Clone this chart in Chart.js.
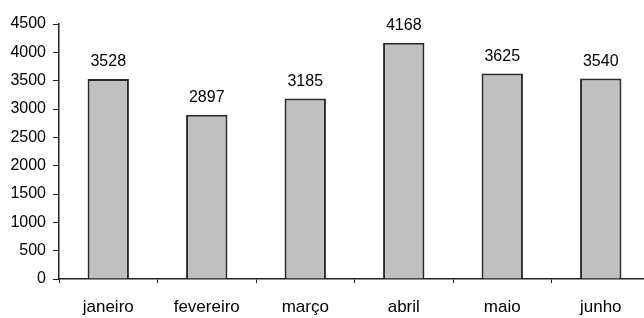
<!DOCTYPE html>
<html>
<head>
<meta charset="utf-8">
<script src="https://cdn.jsdelivr.net/npm/chart.js@4/dist/chart.umd.min.js"></script>
<style>
  html, body { margin: 0; padding: 0; background: #fff; overflow: hidden; }
  #wrap { width: 652px; height: 318px; }
</style>
</head>
<body>
<div id="wrap"><canvas id="chart" width="652" height="318"></canvas></div>
<script>
const months = ["janeiro", "fevereiro", "março", "abril", "maio", "junho"]
const totals = [3528, 2897, 3185, 4168, 3625, 3540]
const yTicks = [0, 500, 1000, 1500, 2000, 2500, 3000, 3500, 4000, 4500]

const fontFamily = "'Liberation Sans', Arial, sans-serif"

// draws the value above each bar
const valueLabels = {
  id: "valueLabels",
  afterDatasetsDraw(chart) {
    const ctx = chart.ctx
    const meta = chart.getDatasetMeta(0)
    ctx.save()
    ctx.font = "16px " + fontFamily
    ctx.fillStyle = "#000"
    ctx.textAlign = "center"
    ctx.textBaseline = "middle"
    meta.data.forEach((bar, i) => {
      ctx.fillText(String(totals[i]), bar.x, bar.y - 17)
    })
    ctx.restore()
  },
}

new Chart(document.getElementById("chart").getContext("2d"), {
  type: "bar",
  data: {
    labels: months,
    datasets: [
      {
        data: totals,
        backgroundColor: "#c0c0c0",
        borderColor: "#2a2a2a",
        borderWidth: 2,
        barPercentage: 0.42,
        categoryPercentage: 1,
      },
    ],
  },
  options: {
    responsive: false,
    animation: false,
    layout: { padding: { top: 24, right: 2, left: 0, bottom: 0 } },
    plugins: {
      legend: { display: false },
      tooltip: { enabled: false },
    },
    scales: {
      x: {
        afterFit: (scale) => { scale.height = 39 },
        border: { color: "#222", width: 1.5 },
        grid: { offset: true, drawOnChartArea: false, tickLength: 4, color: "#222" },
        ticks: {
          color: "#000",
          padding: 14,
          font: { family: fontFamily, size: 17 },
        },
      },
      y: {
        min: 0,
        max: 4500,
        afterFit: (scale) => { scale.width = 59 },
        afterBuildTicks: (scale) => { scale.ticks = yTicks.map((v) => ({ value: v })) },
        border: { color: "#222", width: 1.5 },
        grid: { drawOnChartArea: false, tickLength: 6, color: "#222" },
        ticks: {
          color: "#000",
          padding: 7,
          callback: (v) => String(v),
          font: { family: fontFamily, size: 16 },
        },
      },
    },
  },
  plugins: [valueLabels],
})
</script>
</body>
</html>
